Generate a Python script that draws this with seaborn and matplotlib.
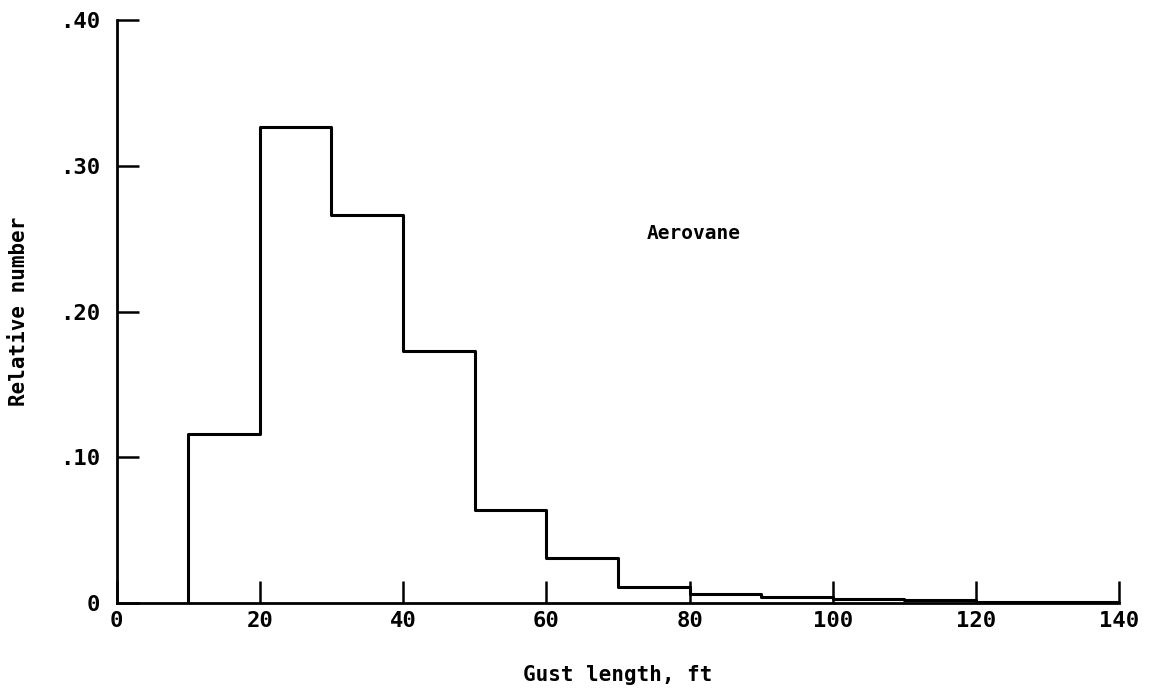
import numpy as np
import pandas as pd
import seaborn as sns
import matplotlib
matplotlib.use("Agg")
import matplotlib.pyplot as plt

# # # values # # #
bin_edges = [10, 20, 30, 40, 50, 60, 70, 80, 90, 100, 110, 120, 130, 140]
rel_number = [0.116, 0.327, 0.266, 0.173, 0.064, 0.031, 0.011, 0.006, 0.004, 0.003, 0.002, 0.001, 0.0005]
x_ticks = [0, 20, 40, 60, 80, 100, 120, 140]
y_ticks = [0, 0.10, 0.20, 0.30, 0.40]
y_tick_labels = ['0', '.10', '.20', '.30', '.40']

centers = [(a + b) / 2 for a, b in zip(bin_edges[:-1], bin_edges[1:])]
gust_df = pd.DataFrame({'length': centers, 'rel': rel_number})

sns.set_style('ticks')
plt.rcParams['font.family'] = ['DejaVu Sans Mono']
plt.rcParams['font.weight'] = 'bold'

fig = plt.figure(figsize=(11.55, 6.94), dpi=100)
ax = fig.add_axes([0.101, 0.131, 0.868, 0.84])

sns.histplot(data=gust_df, x='length', weights='rel', bins=bin_edges,
             element='step', fill=False, color='black', linewidth=2.2, ax=ax)
ax.vlines(bin_edges[0], 0, rel_number[0], color='black', linewidth=2.2)

ax.set_xlim(0, 140)
ax.set_ylim(0, 0.40)
ax.set_xticks(x_ticks)
ax.set_yticks(y_ticks)
ax.set_yticklabels(y_tick_labels)
ax.tick_params(direction='in', length=16, width=1.8, labelsize=16, colors='black')
ax.tick_params(axis='x', pad=6)
ax.tick_params(axis='y', pad=12)
sns.despine(ax=ax)
for s in ['left', 'bottom']:
    ax.spines[s].set_linewidth(2)
    ax.spines[s].set_color('black')

ax.set_xlabel('Gust length, ft', fontsize=15, labelpad=24, color='black', fontweight='bold')
ax.set_ylabel('Relative number', fontsize=15, labelpad=22, color='black', fontweight='bold')
ax.text(74, 0.25, 'Aerovane', fontsize=14, fontweight='bold', color='black')

fig.savefig('out.png', dpi=100)
